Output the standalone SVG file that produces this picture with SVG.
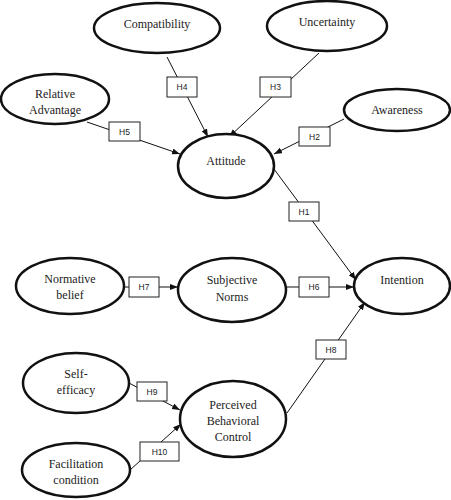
<svg xmlns="http://www.w3.org/2000/svg" width="451" height="500" viewBox="0 0 451 500">
<style>
.n{fill:#fff;stroke:#111;stroke-width:2.5}
.t{font-family:"Liberation Serif","Times New Roman",serif;font-size:12px;fill:#222;text-anchor:middle}
.c{stroke:#111;stroke-width:1;fill:none}
.b{fill:#fff;stroke:#222;stroke-width:1}
.h{font-family:"Liberation Sans",Arial,sans-serif;font-size:8.5px;fill:#222;text-anchor:middle}
</style>
<defs>
<marker id="ar" markerUnits="userSpaceOnUse" markerWidth="9" markerHeight="7" refX="8" refY="3" orient="auto">
<path d="M0,0 L8,3 L0,6 z" fill="#111"/>
</marker>
</defs>
<rect width="451" height="500" fill="#fff"/>
<g id="connectors">
<line class="c" x1="167" y1="57" x2="208" y2="137" marker-end="url(#ar)"/>
<line class="c" x1="319" y1="53" x2="229" y2="137" marker-end="url(#ar)"/>
<line class="c" x1="87" y1="122" x2="180" y2="154" marker-end="url(#ar)"/>
<line class="c" x1="344" y1="119" x2="274" y2="154" marker-end="url(#ar)"/>
<line class="c" x1="274" y1="169" x2="356" y2="280" marker-end="url(#ar)"/>
<line class="c" x1="124" y1="287" x2="178" y2="287" marker-end="url(#ar)"/>
<line class="c" x1="286" y1="287" x2="354" y2="287" marker-end="url(#ar)"/>
<line class="c" x1="287" y1="413" x2="365" y2="302" marker-end="url(#ar)"/>
<line class="c" x1="129" y1="383" x2="180" y2="410" marker-end="url(#ar)"/>
<line class="c" x1="130" y1="470" x2="181" y2="424" marker-end="url(#ar)"/>
<g id="H4"><rect class="b" x="167" y="77" width="30" height="20"/><text class="h" x="182" y="90">H4</text></g>
<g id="H3"><rect class="b" x="260" y="77" width="31" height="20"/><text class="h" x="275.5" y="90">H3</text></g>
<g id="H5"><rect class="b" x="109" y="122" width="31" height="19"/><text class="h" x="124.5" y="134.5">H5</text></g>
<g id="H2"><rect class="b" x="299" y="127" width="31" height="19"/><text class="h" x="314.5" y="139.5">H2</text></g>
<g id="H1"><rect class="b" x="289" y="202" width="30" height="19"/><text class="h" x="304" y="214.5">H1</text></g>
<g id="H7"><rect class="b" x="129" y="277" width="30" height="20"/><text class="h" x="144" y="290">H7</text></g>
<g id="H6"><rect class="b" x="299" y="277" width="30" height="20"/><text class="h" x="314" y="290">H6</text></g>
<g id="H8"><rect class="b" x="316" y="340" width="30" height="19"/><text class="h" x="331" y="352.5">H8</text></g>
<g id="H9"><rect class="b" x="137" y="382" width="30" height="19"/><text class="h" x="152" y="394.5">H9</text></g>
<g id="H10"><rect class="b" x="140" y="442" width="39" height="19"/><text class="h" x="159.5" y="454.5">H10</text></g>
</g>
<g id="compatibility"><ellipse class="n" cx="157" cy="28" rx="63" ry="25"/><text class="t" x="157" y="28">Compatibility</text></g>
<g id="uncertainty"><ellipse class="n" cx="327" cy="26" rx="60" ry="25"/><text class="t" x="327" y="26">Uncertainty</text></g>
<g id="relative-advantage"><ellipse class="n" cx="55" cy="99" rx="54" ry="25"/><text class="t" x="55" y="98">Relative</text><text class="t" x="55" y="114">Advantage</text></g>
<g id="awareness"><ellipse class="n" cx="397" cy="110" rx="53" ry="21"/><text class="t" x="397" y="114">Awareness</text></g>
<g id="attitude"><ellipse class="n" cx="226" cy="166" rx="48" ry="32"/><text class="t" x="226" y="165">Attitude</text></g>
<g id="normative-belief"><ellipse class="n" cx="70" cy="286" rx="54" ry="28"/><text class="t" x="70" y="283">Normative</text><text class="t" x="70" y="299">belief</text></g>
<g id="subjective-norms"><ellipse class="n" cx="232" cy="290" rx="54" ry="32"/><text class="t" x="232" y="284">Subjective</text><text class="t" x="232" y="301">Norms</text></g>
<g id="intention"><ellipse class="n" cx="402" cy="286" rx="48" ry="28"/><text class="t" x="402" y="284">Intention</text></g>
<g id="self-efficacy"><ellipse class="n" cx="76" cy="383" rx="53" ry="30"/><text class="t" x="76" y="378">Self-</text><text class="t" x="76" y="394">efficacy</text></g>
<g id="pbc"><ellipse class="n" cx="233" cy="419" rx="53" ry="38"/><text class="t" x="233" y="409">Perceived</text><text class="t" x="233" y="425">Behavioral</text><text class="t" x="233" y="441">Control</text></g>
<g id="facilitation-condition"><ellipse class="n" cx="76" cy="470" rx="54" ry="27"/><text class="t" x="76" y="468">Facilitation</text><text class="t" x="76" y="484">condition</text></g>
</svg>
